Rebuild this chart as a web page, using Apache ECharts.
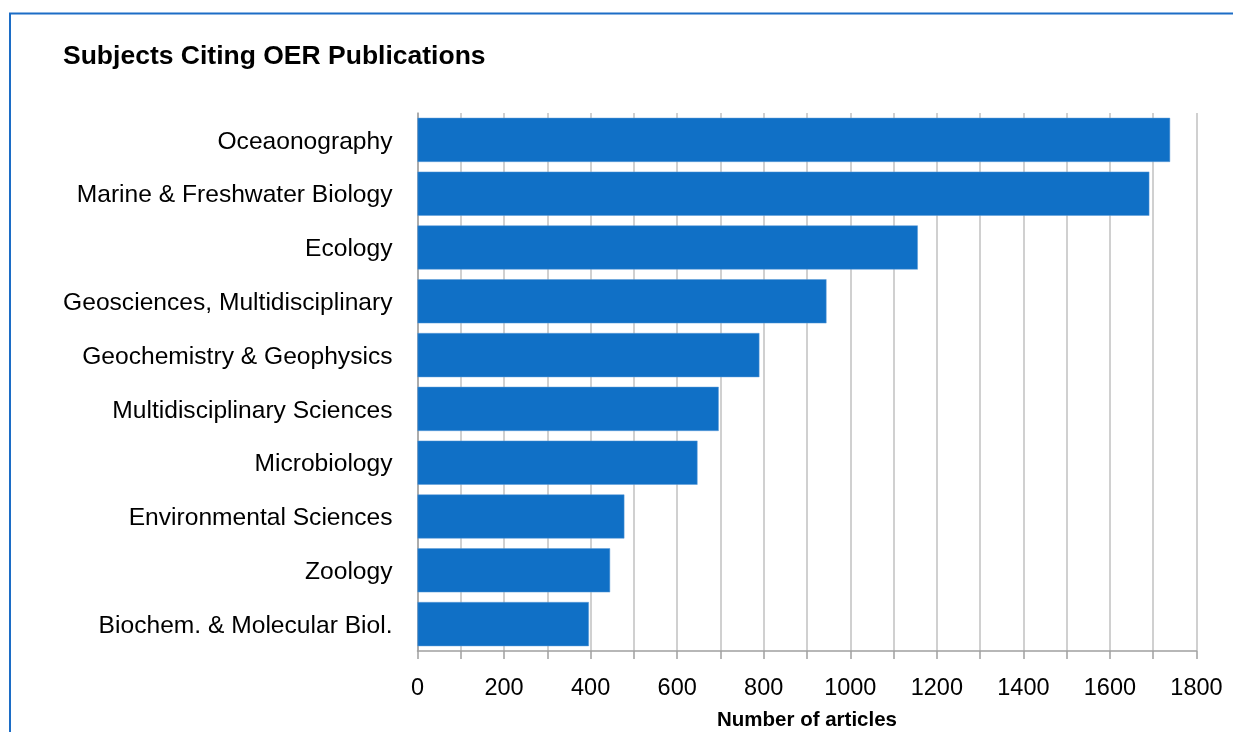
<!DOCTYPE html>
<html>
<head>
<meta charset="utf-8">
<script src="https://cdn.jsdelivr.net/npm/echarts@6/dist/echarts.min.js"></script>
<style>
html,body{margin:0;padding:0;background:#fff;overflow:hidden;}
#chart{width:1233px;height:732px;}
</style>
</head>
<body>
<div id="chart"></div>
<script>
const categories = [
  "Oceaonography",
  "Marine & Freshwater Biology",
  "Ecology",
  "Geosciences, Multidisciplinary",
  "Geochemistry & Geophysics",
  "Multidisciplinary Sciences",
  "Microbiology",
  "Environmental Sciences",
  "Zoology",
  "Biochem. & Molecular Biol."
];
const articleCounts = [1739, 1691, 1156, 945, 790, 696, 647, 478, 445, 396];
const xTickLabels = [0, 200, 400, 600, 800, 1000, 1200, 1400, 1600, 1800];

const chart = echarts.init(document.getElementById('chart'), null, {renderer: 'canvas'});
const FONT = '"Liberation Sans", Arial, sans-serif';

chart.setOption({
  animation: false,
  backgroundColor: '#ffffff',
  title: {
    text: 'Subjects Citing OER Publications',
    left: 58,
    top: 38,
    textStyle: {fontFamily: FONT, fontWeight: 'bold', fontSize: 26.5, color: '#000'}
  },
  graphic: [
    {type: 'line', shape: {x1: 9, y1: 13.5, x2: 1233, y2: 13.5}, style: {stroke: '#1c6dc6', lineWidth: 2}},
    {type: 'line', shape: {x1: 10, y1: 13, x2: 10, y2: 732}, style: {stroke: '#1c6dc6', lineWidth: 2}}
  ],
  grid: {left: 417.5, right: 36.5, top: 113, bottom: 81, containLabel: false, outerBoundsMode: 'none'},
  xAxis: {
    type: 'value',
    min: 0,
    max: 1800,
    interval: 100,
    name: 'Number of articles',
    nameLocation: 'middle',
    nameGap: 59,
    nameTextStyle: {fontFamily: FONT, fontWeight: 'bold', fontSize: 20.5, color: '#000'},
    axisLine: {show: true, lineStyle: {color: '#a0a0a0', width: 1.5}},
    axisTick: {show: true, length: 8, lineStyle: {color: '#a0a0a0', width: 1.5}},
    axisLabel: {
      fontFamily: FONT, fontSize: 23.5, color: '#000', margin: 26,
      formatter: function (v) { return xTickLabels.indexOf(v) >= 0 ? String(v) : ''; }
    },
    splitLine: {show: true, lineStyle: {color: '#c0c0c0', width: 1.5}}
  },
  yAxis: {
    type: 'category',
    data: categories,
    inverse: true,
    axisLine: {show: true, lineStyle: {color: '#a0a0a0', width: 1.5}},
    axisTick: {show: false},
    axisLabel: {
      margin: 25,
      formatter: function (v) { return '{a|' + v + '}'; },
      rich: {a: {fontFamily: FONT, fontSize: 24.6, color: '#000', padding: [4, 0, 0, 0]}}
    },
    splitLine: {show: false}
  },
  series: [{
    type: 'bar',
    data: articleCounts,
    barCategoryGap: '18%',
    itemStyle: {color: '#1070c6', borderColor: '#5a9ad8', borderWidth: 0.5}
  }]
});
</script>
</body>
</html>
